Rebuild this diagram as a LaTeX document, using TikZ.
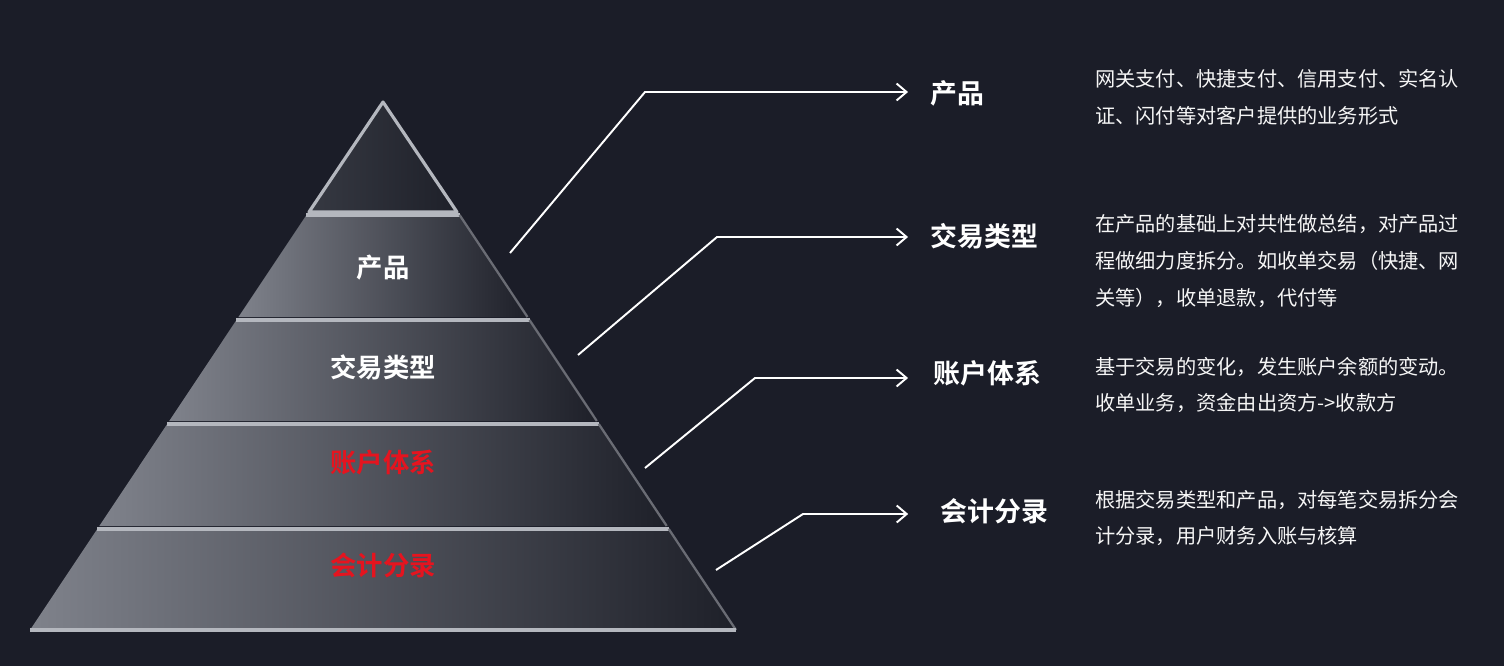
\documentclass[tikz,border=0pt]{standalone}
\usepackage{fontspec}
\setmainfont{Noto Sans CJK SC}[BoldFont={Noto Sans CJK SC Bold}]
\usetikzlibrary{arrows.meta,positioning,calc}
\definecolor{bgnavy}{HTML}{1B1D28}
\definecolor{lyrlite}{HTML}{7F828B}
\definecolor{lyrmid}{HTML}{363942}
\definecolor{lyrdark}{HTML}{1E2029}
\definecolor{silver}{HTML}{B4B7BE}
\definecolor{edgegray}{HTML}{6A6C74}
\definecolor{lblred}{HTML}{E5141F}

\begin{document}
\begin{tikzpicture}[x=0.02cm,y=-0.02cm,
    pylabel/.style={font=\fontsize{15}{18}\selectfont\bfseries,text=white},
    headtxt/.style={anchor=west,inner sep=0pt,font=\fontsize{15.3}{18}\selectfont\bfseries,text=white},
    desc/.style={anchor=west,inner sep=0pt,align=left,text=white!93!gray,
                 font=\fontsize{11.5}{21}\selectfont},
    arr/.style={-{Straight Barb[length=2mm,width=3.4mm]},line width=1.1pt,white}]
  \fill[bgnavy] (0,0) rectangle (1504,666);
  \useasboundingbox (0,0) rectangle (1504,666);

  % pyramid top
  \shade[left color=lyrmid,middle color=lyrmid!80!lyrlite,right color=lyrdark]
    (383,102) -- (457,212) -- (309,212) -- cycle;
  \draw[silver,line width=1.8pt,line join=round] (383,102) -- (457,212) -- (309,212) -- cycle;

  % pyramid layers
  \foreach \t/\b in {215/317,320/421,424/526,529/630}{
    \pgfmathsetmacro\wt{0.666*(\t-100)}
    \pgfmathsetmacro\wb{0.666*(\b-100)}
    \shade[left color=lyrlite,middle color=lyrmid,right color=lyrdark]
      (383-\wt,\t) -- (383+\wt,\t) -- (383+\wb,\b) -- (383-\wb,\b) -- cycle;
    \draw[silver,line width=1.8pt] (383-\wt,\t) -- (383+\wt,\t);
    \draw[edgegray,line width=1.3pt] (383+\wt,\t) -- (383+\wb,\b);
  }
  \draw[silver,line width=1.8pt] (30,630) -- (736,630);

  \node[pylabel]               (pyprod)  at (383,268) {产品};
  \node[pylabel]               (pytype)  at (383,367) {交易类型};
  \node[pylabel,text=lblred]   (pyacct)  at (383,463) {账户体系};
  \node[pylabel,text=lblred]   (pyentry) at (383,565) {会计分录};

  % headings and notes
  \node[headtxt] (tprod)  at (930,93)  {产品};
  \node[headtxt] (ttype)  at (930,236) {交易类型};
  \node[headtxt] (tacct)  at (933,373) {账户体系};
  \node[headtxt] (tentry) at (940,511) {会计分录};

  \node[desc] (dprod)  at (1095,97)  {网关支付、快捷支付、信用支付、实名认\\证、闪付等对客户提供的业务形式};
  \node[desc] (dtype)  at (1095,261) {在产品的基础上对共性做总结，对产品过\\程做细力度拆分。如收单交易（快捷、网\\关等），收单退款，代付等};
  \node[desc] (dacct)  at (1095,385) {基于交易的变化，发生账户余额的变动。\\收单业务，资金由出资方->收款方};
  \node[desc] (dentry) at (1095,518) {根据交易类型和产品，对每笔交易拆分会\\计分录，用户财务入账与核算};

  % connectors
  \coordinate (sprod)  at (510,253);  \coordinate (kprod)  at (645,92);
  \coordinate (stype)  at (578,355);  \coordinate (ktype)  at (717,237);
  \coordinate (sacct)  at (645,468);  \coordinate (kacct)  at (755,378);
  \coordinate (sentry) at (716,570);  \coordinate (kentry) at (803,514);
  \draw[arr,shorten >=12.5pt] (sprod)  -- (kprod)  -- (kprod -| tprod.west);
  \draw[arr,shorten >=12.5pt] (stype)  -- (ktype)  -- (ktype -| ttype.west);
  \draw[arr,shorten >=14.2pt] (sacct)  -- (kacct)  -- (kacct -| tacct.west);
  \draw[arr,shorten >=18.1pt] (sentry) -- (kentry) -- (kentry -| tentry.west);
\end{tikzpicture}
\end{document}
